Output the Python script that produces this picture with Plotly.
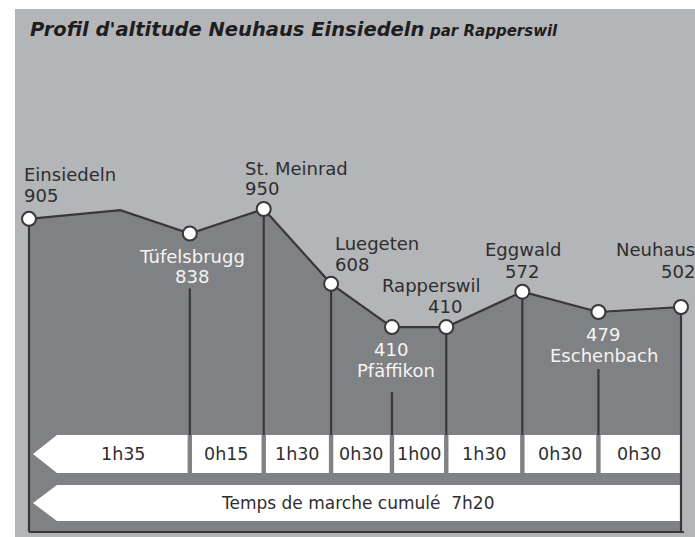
import plotly.graph_objects as go

# ---------------- data ----------------
stations = ["Einsiedeln", "Tüfelsbrugg", "St. Meinrad", "Luegeten", "Pfäffikon",
            "Rapperswil", "Eggwald", "Eschenbach", "Neuhaus"]
station_km = [0.0, 7.4, 10.8, 13.9, 16.7, 19.2, 22.7, 26.2, 30.0]
station_alt = [905, 838, 950, 608, 410, 410, 572, 479, 502]
# unlabelled high point of the profile between Einsiedeln and Tüfelsbrugg
peak_km = [4.2]
peak_alt = [945]
segment_times = ["1h35", "0h15", "1h30", "0h30", "1h00", "1h30", "0h30", "0h30"]
total_time_label = "Temps de marche cumulé  7h20"
title_main = "Profil d'altitude Neuhaus Einsiedeln"
title_sub = "par Rapperswil"

# ---------------- layout constants ----------------
W, H = 695, 537
X_RANGE = [-1.334, 30.644]
Y_RANGE = [-550, 1906]
FONT = "DejaVu Sans"
PANEL = "#b4b5b9"
DARK = "#808185"
INK = "#2e2e2e"
LINE = "#383838"
WHITE_TXT = "#f4f4f4"


def dx_km(dpx):
    return dpx / W * (X_RANGE[1] - X_RANGE[0])


def py_alt(py):
    return Y_RANGE[1] - py / H * (Y_RANGE[1] - Y_RANGE[0])


def dy_m(dpx):
    return dpx / H * (Y_RANGE[1] - Y_RANGE[0])


BASE = py_alt(532)
BAR1 = (py_alt(435), py_alt(473))
BAR2 = (py_alt(485), py_alt(521))

# label placement: anchor, (dx, dy) of name line, (dx, dy) of value line, colour, gap below point for vertical line
LABEL_STYLE = {
    "Einsiedeln": dict(anchor="left", name=(-7, -44), value=(-7, -23), color=INK, gap=0),
    "Tüfelsbrugg": dict(anchor="center", name=(2, 23), value=(2, 43), color=WHITE_TXT, gap=55),
    "St. Meinrad": dict(anchor="left", name=(-21, -41), value=(-21, -21), color=INK, gap=0),
    "Luegeten": dict(anchor="left", name=(2, -40), value=(2, -19), color=INK, gap=0),
    "Pfäffikon": dict(anchor="center", name=(4, 43), value=(-1, 22), color=WHITE_TXT, gap=65),
    "Rapperswil": dict(anchor="center", name=(-15, -42), value=(-1, -21), color=INK, gap=0),
    "Eggwald": dict(anchor="center", name=(1, -42), value=(0, -20), color=INK, gap=0),
    "Eschenbach": dict(anchor="center", name=(6, 43), value=(5, 22), color=WHITE_TXT, gap=57),
    "Neuhaus": dict(anchor="right", name=(16, -57), value=(16, -35), color=INK, gap=0),
}

profile = sorted(zip(station_km + peak_km, station_alt + peak_alt))
prof_km = [p[0] for p in profile]
prof_alt = [p[1] for p in profile]

fig = go.Figure()

# dark filled profile
fig.add_trace(go.Scatter(
    x=prof_km + [station_km[-1], station_km[0]],
    y=prof_alt + [BASE, BASE],
    mode="lines", fill="toself", fillcolor=DARK,
    line=dict(width=0), hoverinfo="skip", showlegend=False))

# segment time bar (arrow pointing left)
bx, by = [], []
half_gap = dx_km(2.2)
for i in range(len(segment_times)):
    left = station_km[i] + half_gap
    right = station_km[i + 1] - half_gap
    if i == len(segment_times) - 1:
        right = station_km[-1] - dx_km(1)
    if i == 0:
        tip = station_km[0] + dx_km(4)
        body = station_km[0] + dx_km(28)
        bx += [tip, body, right, right, body, tip, None]
        by += [(BAR1[0] + BAR1[1]) / 2, BAR1[0], BAR1[0], BAR1[1], BAR1[1],
               (BAR1[0] + BAR1[1]) / 2, None]
    else:
        bx += [left, right, right, left, left, None]
        by += [BAR1[0], BAR1[0], BAR1[1], BAR1[1], BAR1[0], None]
# cumulative bar
tip = station_km[0] + dx_km(4)
body = station_km[0] + dx_km(28)
right = station_km[-1] - dx_km(1)
bx += [tip, body, right, right, body, tip]
by += [(BAR2[0] + BAR2[1]) / 2, BAR2[0], BAR2[0], BAR2[1], BAR2[1], (BAR2[0] + BAR2[1]) / 2]
fig.add_trace(go.Scatter(x=bx, y=by, mode="lines", fill="toself", fillcolor="white",
                         line=dict(width=0), hoverinfo="skip", showlegend=False))

# vertical lines
vx, vy = [], []
for i, name in enumerate(stations):
    top = station_alt[i] - dy_m(LABEL_STYLE[name]["gap"])
    bottom = BASE if i in (0, len(stations) - 1) else BAR1[0]
    vx += [station_km[i], station_km[i], None]
    vy += [top, bottom, None]
vx += [station_km[0], station_km[-1] + dx_km(3)]
vy += [BASE, BASE]
fig.add_trace(go.Scatter(x=vx, y=vy, mode="lines", line=dict(color=LINE, width=2.2),
                         hoverinfo="skip", showlegend=False))

# profile line
fig.add_trace(go.Scatter(x=prof_km, y=prof_alt, mode="lines",
                         line=dict(color=LINE, width=2.2),
                         hoverinfo="skip", showlegend=False))
# station markers
fig.add_trace(go.Scatter(x=station_km, y=station_alt, mode="markers",
                         marker=dict(size=14, color="white", line=dict(color=LINE, width=2)),
                         hoverinfo="skip", showlegend=False))

annotations = []
for i, name in enumerate(stations):
    st = LABEL_STYLE[name]
    for text, (dx, dy) in ((name, st["name"]), (str(station_alt[i]), st["value"])):
        annotations.append(dict(
            x=station_km[i], y=station_alt[i], xref="x", yref="y",
            text=text, showarrow=False, xanchor=st["anchor"], yanchor="middle",
            xshift=dx, yshift=-dy,
            font=dict(family=FONT, size=18, color=st["color"])))

# segment time labels
for i, t in enumerate(segment_times):
    left = station_km[i] + (dx_km(28) if i == 0 else 0)
    annotations.append(dict(
        x=(left + station_km[i + 1]) / 2, y=(BAR1[0] + BAR1[1]) / 2,
        xref="x", yref="y", text=t, showarrow=False,
        xanchor="center", yanchor="middle",
        font=dict(family=FONT, size=17.5, color=INK)))
annotations.append(dict(
    x=(station_km[0] + dx_km(4) + station_km[-1]) / 2, y=(BAR2[0] + BAR2[1]) / 2,
    xref="x", yref="y", text=total_time_label, showarrow=False,
    xanchor="center", yanchor="middle",
    font=dict(family=FONT, size=17, color=INK)))

# title
annotations.append(dict(
    x=28 / W, y=1 - 29 / H, xref="paper", yref="paper", text=title_main,
    showarrow=False, xanchor="left", yanchor="middle",
    font=dict(family=FONT, size=19.5, color="#1e1e1e", weight="bold", style="italic")))
annotations.append(dict(
    x=427 / W, y=1 - 31 / H, xref="paper", yref="paper", text=title_sub,
    showarrow=False, xanchor="left", yanchor="middle",
    font=dict(family=FONT, size=15, color="#1e1e1e", weight="bold", style="italic")))

fig.update_layout(
    width=W, height=H,
    margin=dict(l=0, r=0, t=0, b=0),
    paper_bgcolor="white", plot_bgcolor="white",
    xaxis=dict(range=X_RANGE, visible=False, fixedrange=True),
    yaxis=dict(range=Y_RANGE, visible=False, fixedrange=True),
    shapes=[dict(type="rect", xref="paper", yref="paper", x0=15 / W, x1=1,
                 y0=0, y1=1 - 9 / H, fillcolor=PANEL, line=dict(width=0), layer="below")],
    annotations=annotations,
    showlegend=False,
)

fig.write_html(
    "out.html",
    config={"displayModeBar": False},
    post_script="document.body.style.margin='0';document.body.style.overflow='hidden';",
)
